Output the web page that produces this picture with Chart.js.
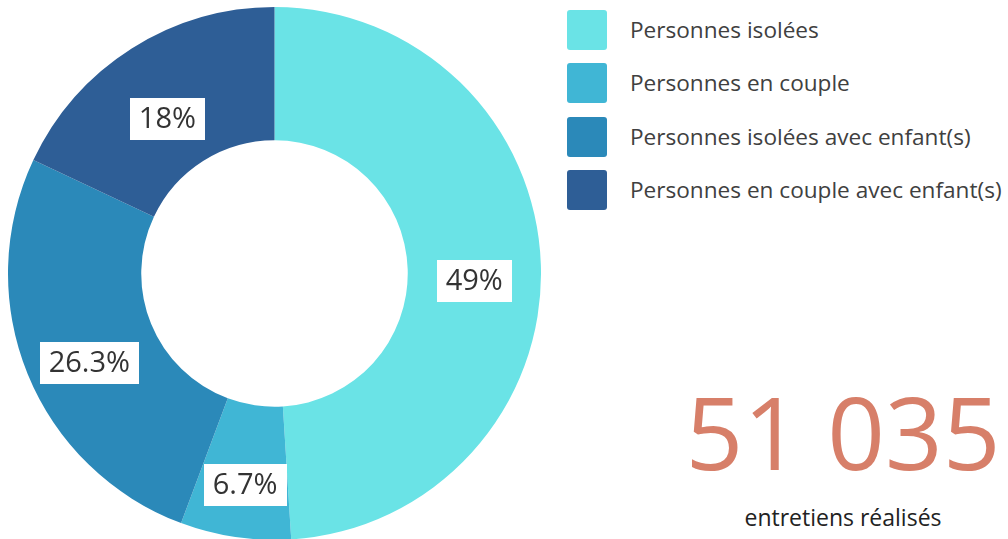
<!DOCTYPE html>
<html>
<head>
<meta charset="utf-8">
<script src="https://cdn.jsdelivr.net/npm/chart.js@4"></script>
<style>
  html, body { margin: 0; padding: 0; background: #fff; width: 1008px; height: 539px; overflow: hidden; }
  #wrap { position: absolute; left: 8px; top: 7px; width: 533px; height: 533px; }
  #legend { position: absolute; left: 567px; top: 10px; font-family: "Open Sans", sans-serif; font-size: 22.6px; color: #404040; }
  .item { position: relative; height: 40px; margin-bottom: 13.3px; }
  .sw { position: absolute; left: 0; top: 0; width: 40px; height: 40px; border-radius: 3px; }
  .tx { position: absolute; left: 63px; top: 0; line-height: 40px; white-space: nowrap; }
  #big { position: absolute; left: 640px; width: 406px; text-align: center; top: 371px; font-family: "Open Sans", sans-serif; font-size: 101px; line-height: 120px; color: #d77f69; }
  #sub { position: absolute; left: 640px; width: 406px; text-align: center; top: 502px; font-family: "Open Sans", sans-serif; font-size: 23px; line-height: 30px; color: #222; }
</style>
</head>
<body>
<div id="wrap"><canvas id="c"></canvas></div>
<div id="legend"></div>
<div id="big"></div>
<div id="sub"></div>
<script>
const categories = ["Personnes isolées", "Personnes en couple", "Personnes isolées avec enfant(s)", "Personnes en couple avec enfant(s)"];
const values = [49, 6.7, 26.3, 18];
const valueLabels = ["49%", "6.7%", "26.3%", "18%"];
const colors = ["#6ae3e6", "#40b6d5", "#2b89b9", "#2e5e96"];
const totalText = "51 035";
const totalCaption = "entretiens réalisés";

const legend = document.getElementById('legend');
categories.forEach((c, i) => {
  const d = document.createElement('div');
  d.className = 'item';
  d.innerHTML = '<div class="sw" style="background:' + colors[i] + '"></div><div class="tx"></div>';
  d.querySelector('.tx').textContent = c;
  legend.appendChild(d);
});
document.getElementById('big').textContent = totalText;
document.getElementById('sub').textContent = totalCaption;

const labelPlugin = {
  id: 'boxLabels',
  afterDatasetsDraw(chart) {
    const ctx = chart.ctx;
    const meta = chart.getDatasetMeta(0);
    ctx.save();
    ctx.font = '29px "Open Sans", sans-serif';
    ctx.textAlign = 'center';
    ctx.textBaseline = 'middle';
    meta.data.forEach((arc, i) => {
      const p = arc.getCenterPoint();
      const y = p.y + 14;
      const t = valueLabels[i];
      const w = ctx.measureText(t).width + 18;
      const h = 42;
      ctx.fillStyle = '#fff';
      ctx.fillRect(Math.round(p.x - w / 2), Math.round(y - h / 2), Math.round(w), h);
      ctx.fillStyle = '#333';
      ctx.fillText(t, p.x, y + 1);
    });
    ctx.restore();
  }
};

new Chart(document.getElementById('c'), {
  type: 'doughnut',
  data: {
    labels: categories,
    datasets: [{ data: values, backgroundColor: colors, borderWidth: 0 }]
  },
  options: {
    responsive: true,
    maintainAspectRatio: false,
    animation: false,
    cutout: '50%',
    layout: { padding: 0 },
    plugins: { legend: { display: false }, tooltip: { enabled: false } }
  },
  plugins: [labelPlugin]
});
</script>
</body>
</html>
